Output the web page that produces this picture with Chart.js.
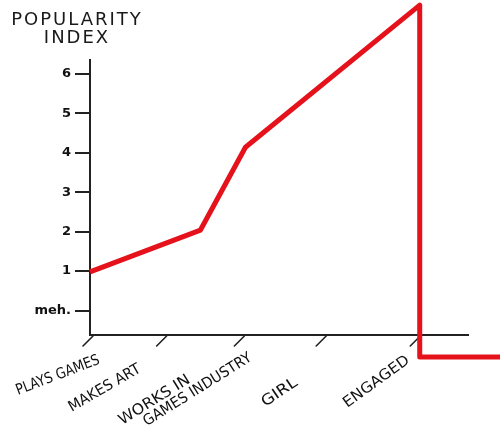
<!DOCTYPE html>
<html><head><meta charset="utf-8">
<script src="https://cdn.jsdelivr.net/npm/chart.js@4.4.1/dist/chart.umd.min.js"></script>
<style>html,body{margin:0;padding:0;background:#fff;}</style>
</head><body><canvas id="c" width="500" height="429"></canvas>
<script>
// ---- data ----
const titleLines = ["POPULARITY", "INDEX"];
const stageLabels = ["PLAYS GAMES", "MAKES ART", ["WORKS IN", "GAMES INDUSTRY"], "GIRL", "ENGAGED"];
const stagePositions = [0, 0.9, 1.85, 2.85, 4.0];
const yTickValues = [0, 1, 2, 3, 4, 5, 6];
const yTickLabels = ["meh.", "1", "2", "3", "4", "5", "6"];
const lifeX = [0, 1.35, 1.9, 4.03, 4.03, 5.02];
const popularity = [0.98, 2.04, 4.14, 7.74, -1.18, -1.18];

// hand-lettered look of the stage labels (offset from tick, angle, drawn length)
const labelStyle = [
  { dx: -72, dy: 60, angle: 21, len: [79] },
  { dx: -92, dy: 77, angle: 30, len: [81] },
  { dx: -119, dy: 90, angle: 32, len: [81, 125], indent: [0, 20], lh: 14 },
  { dx: -58, dy: 72, angle: 34, len: [45] },
  { dx: -70, dy: 73, angle: 36, len: [78] }
];

const handPlugin = {
  id: 'hand',
  beforeDatasetsDraw(chart) {
    const c = chart.ctx, xs = chart.scales.x, area = chart.chartArea;
    c.save();
    c.strokeStyle = '#222'; c.lineWidth = 1.6; c.lineCap = 'round';
    c.fillStyle = '#111';
    c.font = '15px "DejaVu Sans"';
    c.textAlign = 'left'; c.textBaseline = 'alphabetic';
    xs.ticks.forEach((t, i) => {
      const px = xs.getPixelForValue(t.value);
      c.beginPath(); c.moveTo(px + 3, area.bottom + 1); c.lineTo(px - 7, area.bottom + 11); c.stroke();
      const st = labelStyle[i];
      const lines = [].concat(stageLabels[i]);
      c.save();
      c.translate(px + st.dx, area.bottom + st.dy);
      c.rotate(-st.angle * Math.PI / 180);
      lines.forEach((ln, j) => {
        const w = c.measureText(ln).width;
        const k = Math.min(1.15, Math.max(0.85, st.len[j] / w));
        c.save();
        c.translate(st.indent ? st.indent[j] : 0, j * (st.lh || 0));
        c.scale(k, 1);
        c.fillText(ln, 0, 0);
        c.restore();
      });
      c.restore();
    });
    c.fillStyle = '#1a1a1a';
    c.font = '18px "DejaVu Sans"';
    c.textAlign = 'center';
    c.letterSpacing = '2px';
    c.fillText(titleLines[0], 77, 25);
    c.fillText(titleLines[1], 77, 43);
    c.restore();
  }
};

new Chart(document.getElementById('c').getContext('2d'), {
  type: 'line',
  data: {
    datasets: [{
      data: lifeX.map((x, i) => ({ x: x, y: popularity[i] })),
      borderColor: '#e5121b', borderWidth: 5, pointRadius: 0, tension: 0,
      clip: false, borderJoinStyle: 'round', borderCapStyle: 'butt', fill: false
    }]
  },
  options: {
    responsive: false, animation: false, devicePixelRatio: 1,
    layout: { padding: { top: 60, right: 32, left: 0, bottom: 0 } },
    plugins: { legend: { display: false }, tooltip: { enabled: false }, title: { display: false } },
    scales: {
      x: {
        type: 'linear', min: 0, max: 4.62,
        afterBuildTicks: s => { s.ticks = stagePositions.map(v => ({ value: v })); },
        afterFit: s => { s.height = 94; },
        grid: { display: false },
        border: { display: true, color: '#222', width: 2 },
        ticks: { display: false, autoSkip: false, callback: (v, i) => stageLabels[i] }
      },
      y: {
        type: 'linear', min: -0.62, max: 6.35,
        afterBuildTicks: s => { s.ticks = yTickValues.map(v => ({ value: v })); },
        afterFit: s => { s.width = 90; },
        grid: { drawOnChartArea: false, drawTicks: true, tickLength: 15, color: '#222', lineWidth: 2 },
        border: { display: true, color: '#222', width: 2 },
        ticks: { padding: 4, color: '#111', font: { family: 'DejaVu Sans', size: 13, weight: 'bold' },
          callback: (v, i) => yTickLabels[i] }
      }
    }
  },
  plugins: [handPlugin]
});
</script>
</body></html>
